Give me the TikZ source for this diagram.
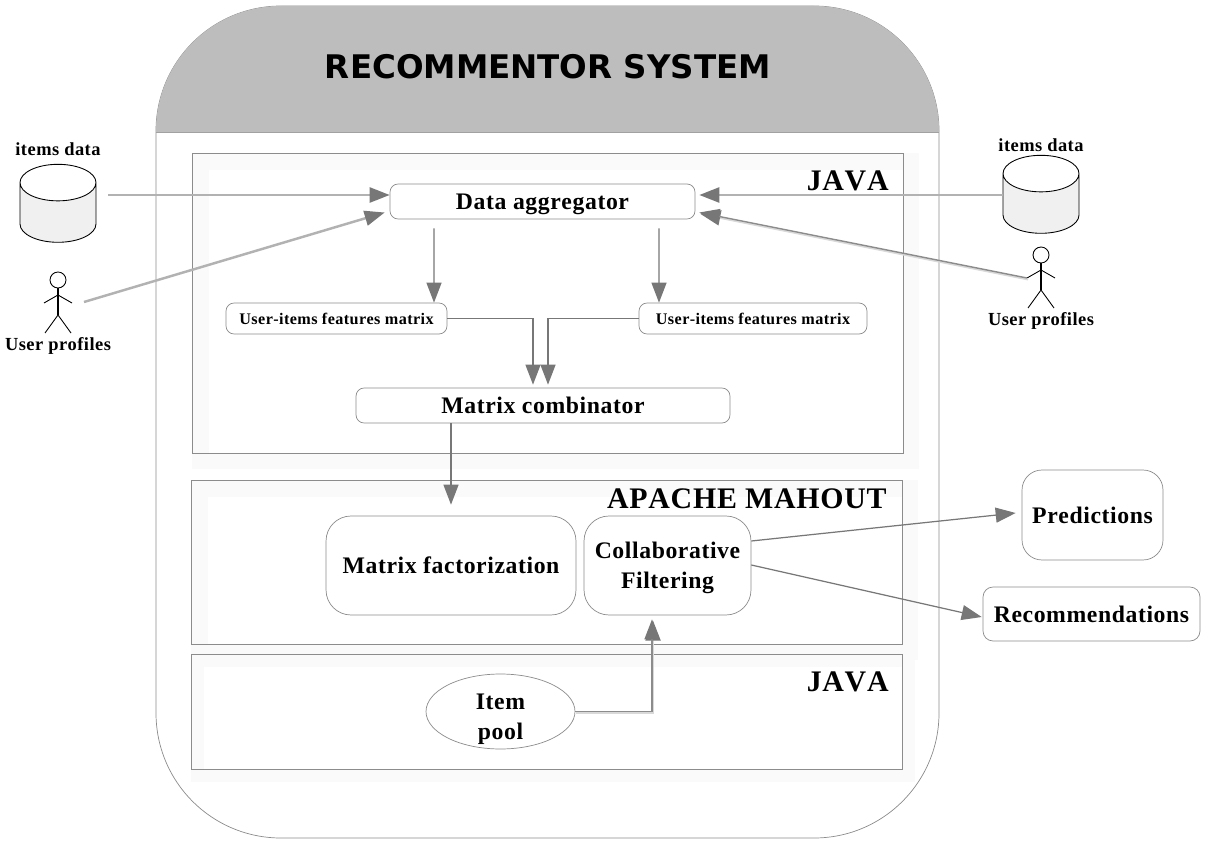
\documentclass[tikz,border=0pt]{standalone}
\usepackage{fontspec}
\setmainfont[LetterSpace=2.5,Kerning=Off,Ligatures=NoCommon]{Liberation Serif}
\newfontfamily\titlefont{DejaVu Sans}
\usetikzlibrary{arrows.meta}
\usetikzlibrary{shapes.geometric}

\definecolor{bandgray}{HTML}{BDBDBD}
\definecolor{tipgray}{HTML}{777777}
\definecolor{linegray}{HTML}{8C8C8C}
\definecolor{rimgray}{HTML}{FAFAFA}
\definecolor{dbgray}{HTML}{F0F0F0}

\tikzset{
  box/.style={draw=linegray, fill=white, rounded corners=8*0.02cm, inner sep=0pt, align=center, font=\bfseries\fontsize{13.5}{16}\selectfont},
  smallbox/.style={box, font=\bfseries\fontsize{9.2}{12}\selectfont},
  bigbox/.style={box, rounded corners=0.5cm},
  layer/.style={font=\bfseries\fontsize{17}{20}\selectfont, inner sep=0pt, anchor=north east},
  tag/.style={font=\bfseries\fontsize{10.5}{12}\selectfont, inner sep=0pt},
  tipend/.style={-{Triangle[length=0.4cm,width=0.3cm,color=tipgray]}},
  thin flow/.style={draw=tipgray, line width=0.7pt, tipend},
  wide flow/.style={draw=black!30, line width=1.4pt, tipend},
  shadow flow/.style={draw=linegray, line width=0.8pt, tipend,
    preaction={draw=black!15, line width=1.2pt, transform canvas={xshift=0.6pt,yshift=-0.8pt}}},
  db/.style={draw=black, cylinder, shape border rotate=90, aspect=5.2, cylinder uses custom fill,
    cylinder body fill=dbgray, cylinder end fill=white, minimum width=1.52cm, minimum height=1.56cm, inner sep=2pt, line width=0.5pt},
  actor/.pic={
    \draw[line width=0.5pt] (0,-15) circle (8);
    \draw[line width=0.8pt] (0,-7) -- (0,20);
    \draw[line width=0.5pt] (-14,8) -- (0,0) -- (14,8);
    \draw[line width=0.5pt] (-13,38) -- (0,20) -- (13,38);
  }
}

\begin{document}
\begin{tikzpicture}[x=0.02cm, y=-0.02cm]
\useasboundingbox (0,0) rectangle (1206,844);

% Outer system shape
\draw[draw=linegray, fill=white, rounded corners=2.5cm] (156,6) rectangle (939,838);
\begin{scope}
\clip (0,0) rectangle (1206,132);
\fill[bandgray, rounded corners=2.5cm] (156,6) rectangle (939,838);
\end{scope}
\draw[draw=bandgray!85!black] (156,132) -- (939,132);
\node[font=\titlefont\bfseries\fontsize{18.5}{22}\selectfont, inner sep=0pt] (title) at (548,66.5) {RECOMMENTOR SYSTEM};

% Layers, with their soft rims
\fill[rimgray] (192,153) rectangle (919,469);
\fill[white] (209,170) rectangle (903,453);
\draw[draw=linegray] (192,153) rectangle (903,453);
\fill[rimgray] (191,480) rectangle (918,660);
\fill[white] (208,497) rectangle (902,644);
\draw[draw=linegray] (191,480) rectangle (902,644);
\fill[rimgray] (191,654) rectangle (915,782);
\fill[white] (204,667) rectangle (902,769);
\draw[draw=linegray] (191,654) rectangle (902,769);
\node[layer] (javatop) at (889,170) {JAVA};
\node[layer] (mahout) at (887,488) {APACHE MAHOUT};
\node[layer] (javabottom) at (889,671) {JAVA};

% Boxes
\node[box, text depth=0pt, minimum width=6.1cm, minimum height=0.7cm] (aggr) at (542.5,201.5) {Data aggregator};
\node[smallbox, minimum width=4.42cm, minimum height=0.62cm] (usermatl) at (336.5,318.5) {User-items features matrix};
\node[smallbox, minimum width=4.56cm, minimum height=0.62cm] (usermatr) at (753,318.5) {User-items features matrix};
\node[box, minimum width=7.48cm, minimum height=0.7cm] (combin) at (543,405.5) {Matrix combinator};
\node[bigbox, minimum width=5cm, minimum height=1.98cm] (factor) at (451,565.5) {Matrix factorization};
\node[bigbox, text depth=0pt, minimum width=3.34cm, minimum height=1.98cm] (collab) at (667.5,565.5) {Collaborative\\[1pt]Filtering};
\node[box, rounded corners=0.4cm, minimum width=2.82cm, minimum height=1.8cm] (predict) at (1092.5,515) {Predictions};
\node[box, rounded corners=0.2cm, minimum width=4.34cm, minimum height=1.08cm] (recomm) at (1091.5,614) {Recommendations};
\node[ellipse, draw=linegray, fill=white, inner sep=0pt, minimum width=2.98cm, minimum height=1.5cm] (pool) at (500.5,711.5) {};
\node[align=center, inner sep=0pt, font=\bfseries\fontsize{13.5}{16}\selectfont] (pooltext) at (500.5,719.5) {Item\\[1pt]pool};

% Data stores
\node[tag] (itemsl) at (58,149) {items data};
\node[db] (dbl) at (58,216.5) {};
\node[tag] (itemsr) at (1041,145) {items data};
\node[db] (dbr) at (1041,207.5) {};

% Users
\pic (actorl) at (58,295) {actor};
\node[tag] (userl) at (58,346) {User profiles};
\coordinate (handl) at (84,302);
\pic (actorr) at (1041,270) {actor};
\node[tag] (userr) at (1041,321) {User profiles};
\coordinate (handr) at (1027,278);

% Inputs
\draw[wide flow] ([shift={(12,-21.5)}]dbl.east) -- ([shift={(0,-6.5)}]aggr.west);
\draw[wide flow] ([shift={(0,-12.5)}]dbr.west) -- ([shift={(4,-6.5)}]aggr.east);
\draw[wide flow] (handl) -- ([shift={(-5,11)}]aggr.west);
\draw[shadow flow] (handr) -- ([shift={(4,11)}]aggr.east);

% Flow through the java layer
\draw[thin flow] ([shift={(-108.5,9)}]aggr.south) -- ([shift={(97.5,0)}]usermatl.north);
\draw[thin flow] ([shift={(116.5,9)}]aggr.south) -- ([shift={(-94,0)}]usermatr.north);
\draw[thin flow] (usermatl.east) -| ([shift={(-10,-3)}]combin.north);
\draw[thin flow] (usermatr.west) -| ([shift={(5,-3)}]combin.north);
\draw[thin flow] ([shift={(-92,0)}]combin.south) -- ([shift={(0,-11)}]factor.north);

% Out of mahout
\draw[thin flow] ([shift={(0,-24.5)}]collab.east) -- ([shift={(-6,-2)}]predict.west);
\draw[thin flow] ([shift={(0,-0.5)}]collab.east) -- ([shift={(-1,3)}]recomm.west);
\draw[shadow flow] (pool.east) -| ([shift={(-15.5,4)}]collab.south);

\end{tikzpicture}
\end{document}
